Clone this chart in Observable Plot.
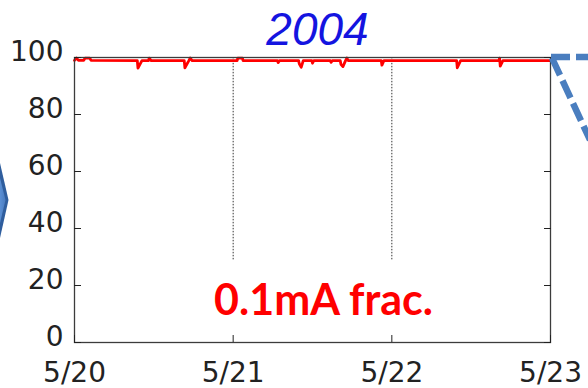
<!DOCTYPE html>
<html>
<head>
<meta charset="utf-8">
<script src="https://cdn.jsdelivr.net/npm/d3@7"></script>
<script src="https://cdn.jsdelivr.net/npm/@observablehq/plot@0.6"></script>
<style>
  html, body { margin: 0; padding: 0; background: #fff; }
  #wrap { position: relative; width: 588px; height: 388px; overflow: hidden; }
  #wrap svg.deco { position: absolute; left: 0; top: 0; pointer-events: none; }
</style>
</head>
<body>
<div id="wrap"></div>
<script>
// Beam current stability record, 20–23 May 2004
const title = "2004";
const note = "0.1mA frac.";
const startDay = Date.UTC(2004, 4, 20);
const endDay = Date.UTC(2004, 4, 23);

// hours since 5/20 00:00 and fraction (%) within 0.1 mA
const hours = [0.0, 0.3, 0.6, 1.4, 1.6, 2.3, 2.5, 9.5, 9.6, 10.2, 11.2, 11.3, 11.6,
  16.6, 16.7, 17.3, 17.5, 17.8, 24.6, 24.7, 25.4, 25.5, 30.7, 30.8, 31.0,
  33.9, 34.0, 34.3, 34.6, 35.9, 36.0, 36.2, 38.7, 38.8, 39.0, 40.2, 40.3, 40.6,
  41.0, 41.2, 41.4, 46.4, 46.5, 46.8, 57.8, 57.9, 58.4, 64.2, 64.3, 64.4, 64.8, 72.0];
const percent = [99.0, 99.8, 99.0, 99.0, 99.8, 99.8, 99.0, 98.9, 96.3, 98.9, 98.9, 99.8, 98.9,
  98.9, 96.4, 98.9, 99.8, 98.9, 98.9, 99.8, 99.8, 98.9, 98.9, 98.2, 98.9,
  98.9, 97.8, 96.6, 98.9, 98.9, 98.0, 98.9, 98.9, 98.3, 98.9, 98.9, 97.6, 96.8,
  98.9, 99.8, 98.9, 98.9, 97.3, 98.9, 98.9, 96.4, 98.9, 98.9, 99.8, 97.0, 98.9, 98.9];

const yTicks = [0, 20, 40, 60, 80, 100];
const dayTicks = [0, 1, 2, 3].map(d => new Date(startDay + d * 864e5));
const gridDays = dayTicks.slice(1, 3);
const gridFloor = 29;

const series = hours.map((h, i) => ({date: new Date(startDay + h * 3600e3), value: percent[i]}));

const axisFont = "DejaVu Sans, sans-serif";

const chart = Plot.plot({
  width: 588,
  height: 388,
  marginLeft: 74,
  marginRight: 38,
  marginTop: 57,
  marginBottom: 46,
  style: {background: "#fff", color: "#222", overflow: "visible"},
  x: {type: "utc", domain: [new Date(startDay), new Date(endDay)]},
  y: {domain: [0, 100]},
  marks: [
    Plot.ruleX(gridDays, {x: d => d, y1: gridFloor, y2: 100, stroke: "#333", strokeWidth: 1, strokeDasharray: "1.5 1.5"}),
    Plot.line(series, {x: "date", y: "value", stroke: "#ff0000", strokeWidth: 2.8}),
    Plot.frame({stroke: "#3c3c3c", strokeWidth: 1.3}),
    // inward ticks
    Plot.axisY(yTicks, {anchor: "left", tickSize: -7, fill: "none", stroke: "#222"}),
    Plot.axisY(yTicks, {anchor: "right", tickSize: -7, fill: "none", stroke: "#222"}),
    Plot.axisX(dayTicks, {anchor: "bottom", tickSize: -7, fill: "none", stroke: "#222"}),
    // tick labels
    Plot.axisY(yTicks, {anchor: "left", tickSize: 0, tickPadding: 11, dy: -5, label: null,
      fontSize: 28, fontFamily: axisFont, fill: "#222"}),
    Plot.axisX(dayTicks, {anchor: "bottom", tickSize: 0, tickPadding: 20, label: null,
      tickFormat: d3.utcFormat("%-m/%-d"), fontSize: 28, fontFamily: axisFont, fill: "#222"}),
    // title and note
    Plot.text([title], {frameAnchor: "top", lineAnchor: "middle", dx: 5, dy: -27, fontSize: 46,
      fontStyle: "italic", fontFamily: "Liberation Sans, Arial, sans-serif", fill: "#1414e0"}),
    Plot.text([note], {frameAnchor: "bottom", lineAnchor: "middle", dx: 11, dy: -41, fontSize: 43,
      fontWeight: "bold", fontFamily: "Lato, sans-serif", fill: "#ff0000"})
  ]
});

const wrap = document.getElementById("wrap");
wrap.appendChild(chart);

// slide connectors around the chart
const ns = "http://www.w3.org/2000/svg";
const deco = document.createElementNS(ns, "svg");
deco.setAttribute("class", "deco");
deco.setAttribute("width", 588);
deco.setAttribute("height", 388);
deco.innerHTML = `
  <defs>
    <linearGradient id="chev" x1="0" x2="1" y1="0" y2="0">
      <stop offset="0" stop-color="#5a8fd4"/>
      <stop offset="1" stop-color="#4a7cc0"/>
    </linearGradient>
  </defs>
  <polygon points="0,163 8.5,200 0,238" fill="#2f5e9e"/>
  <polygon points="0,178 5.5,200 0,223" fill="url(#chev)"/>
  <g stroke="#4a7ebf" stroke-width="6.5" fill="none" stroke-dasharray="19 6">
    <line x1="551" y1="57" x2="592" y2="57"/>
    <line x1="552" y1="58" x2="590" y2="140"/>
  </g>`;
wrap.appendChild(deco);
</script>
</body>
</html>
